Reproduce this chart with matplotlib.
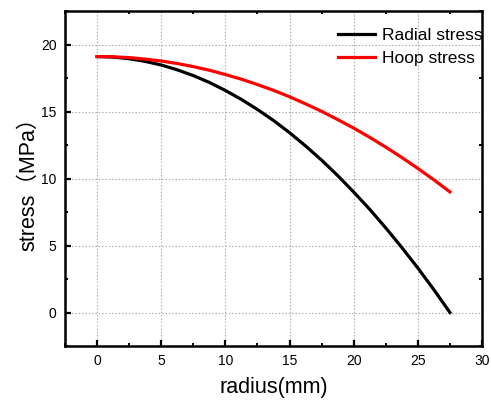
import matplotlib
matplotlib.use("Agg")
import matplotlib.pyplot as plt
from matplotlib.ticker import MultipleLocator

plt.rcParams['font.family'] = ['Liberation Sans', 'Noto Sans CJK SC', 'DejaVu Sans']

# radial position (mm) and stress values (MPa)
radius = [0, 1.25, 2.5, 3.75, 5, 6.25, 7.5, 8.75, 10, 11.25, 12.5, 13.75,
          15, 16.25, 17.5, 18.75, 20, 21.25, 22.5, 23.75, 25, 26.25, 27.5]
radial_stress = [19.10, 19.06, 18.94, 18.74, 18.47, 18.11, 17.68, 17.17,
                 16.57, 15.90, 15.15, 14.33, 13.42, 12.43, 11.37, 10.22,
                 8.99, 7.70, 6.31, 4.85, 3.32, 1.70, 0.00]
hoop_stress = [19.10, 19.08, 19.02, 18.91, 18.77, 18.58, 18.35, 18.08,
               17.76, 17.41, 17.01, 16.58, 16.10, 15.57, 15.01, 14.40,
               13.76, 13.07, 12.34, 11.57, 10.75, 9.90, 9.00]

x_ticks = [0, 5, 10, 15, 20, 25, 30]
y_ticks = [0, 5, 10, 15, 20]

fig = plt.figure(figsize=(4.91, 4.00), dpi=100)
ax = fig.add_axes([65 / 491, 54 / 400, 417 / 491, 335 / 400])

ax.plot(radius, radial_stress, color='black', lw=2.3, label='Radial stress', zorder=3)
ax.plot(radius, hoop_stress, color='#ff0000', lw=2.3, label='Hoop stress', zorder=3)

ax.set_xlim(-2.5, 30)
ax.set_ylim(-2.5, 22.5)
ax.set_xticks(x_ticks)
ax.set_yticks(y_ticks)
ax.xaxis.set_minor_locator(MultipleLocator(2.5))
ax.yaxis.set_minor_locator(MultipleLocator(2.5))

ax.grid(True, which='major', color='#a6a6a6', lw=0.8, linestyle=(0, (1.2, 1.8)))

for s in ax.spines.values():
    s.set_linewidth(1.8)

ax.tick_params(which='major', direction='in', length=4, width=1.6,
               top=False, right=False, labelsize=10, pad=6, colors='black')
ax.tick_params(which='minor', direction='in', length=2.5, width=1.4,
               top=True, right=True)

ax.set_xlabel('radius(mm)', fontsize=15.5, labelpad=6)
ax.set_ylabel('stress（MPa）', fontsize=15.5, labelpad=1)

ax.legend(loc='upper left', bbox_to_anchor=(0.655, 0.95), frameon=False,
          fontsize=12.5, handlelength=2.1, handletextpad=0.45,
          borderpad=0, borderaxespad=0, labelspacing=0.44)

fig.savefig('out.png', dpi=100)
